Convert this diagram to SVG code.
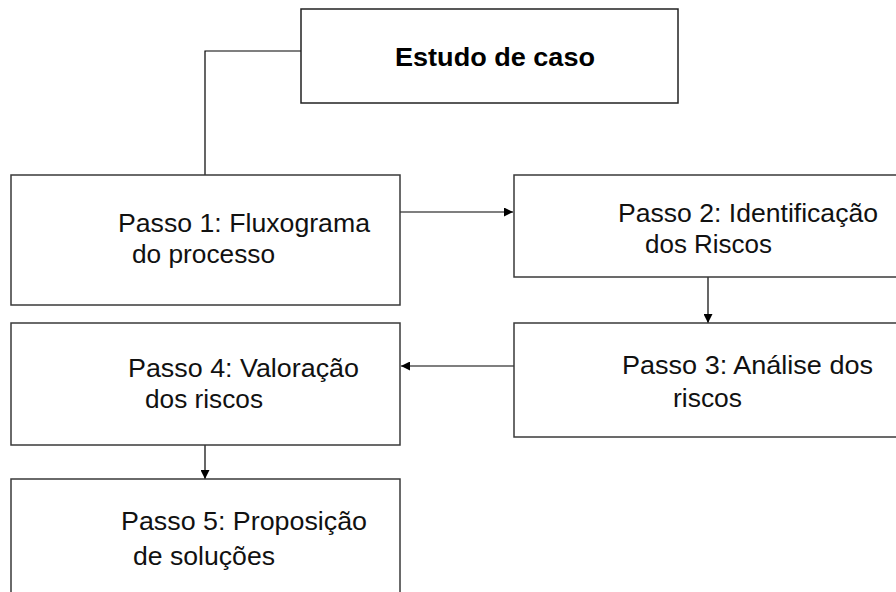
<svg xmlns="http://www.w3.org/2000/svg" width="896" height="592" viewBox="0 0 896 592">
<defs>
<style>
.box{fill:#fff;stroke:#3a3a3a;stroke-width:1.5}
.t{font-family:"Liberation Sans",Arial,sans-serif;font-size:26px;fill:#111}
.b{font-family:"Liberation Sans",Arial,sans-serif;font-size:26px;font-weight:bold;fill:#000}
.c{fill:none;stroke:#000;stroke-width:1.2}
</style>
<marker id="ah" viewBox="0 0 10 10" refX="10" refY="5" markerWidth="9" markerHeight="9" markerUnits="userSpaceOnUse" orient="auto"><path d="M0,0 L10,5 L0,10 z" fill="#000"/></marker>
</defs>
<rect width="896" height="592" fill="#fff"/>
<g id="connectors">
<polyline class="c" points="301,51 205,51 205,175"/>
<line class="c" x1="400" y1="212" x2="513" y2="212" marker-end="url(#ah)"/>
<line class="c" x1="708" y1="277" x2="708" y2="323" marker-end="url(#ah)"/>
<line class="c" x1="514" y1="366" x2="401" y2="366" marker-end="url(#ah)"/>
<line class="c" x1="205" y1="445" x2="205" y2="479" marker-end="url(#ah)"/>
</g>
<g id="estudo">
<rect class="box" x="301" y="9" width="377" height="94" style="stroke:#222"/>
<text class="b" x="395" y="66" textLength="200" lengthAdjust="spacingAndGlyphs">Estudo de  caso</text>
</g>
<g id="passo1">
<rect class="box" x="11" y="175" width="389" height="130"/>
<text class="t" x="118" y="232" textLength="252" lengthAdjust="spacingAndGlyphs">Passo 1: Fluxograma</text>
<text class="t" x="132" y="263" textLength="143" lengthAdjust="spacingAndGlyphs">do processo</text>
</g>
<g id="passo2">
<rect class="box" x="514" y="175" width="390" height="102"/>
<text class="t" x="618" y="222" textLength="260" lengthAdjust="spacingAndGlyphs">Passo 2: Identificação</text>
<text class="t" x="645" y="253" textLength="127" lengthAdjust="spacingAndGlyphs">dos Riscos</text>
</g>
<g id="passo3">
<rect class="box" x="514" y="323" width="390" height="114"/>
<text class="t" x="622" y="374" textLength="251" lengthAdjust="spacingAndGlyphs">Passo 3: Análise dos</text>
<text class="t" x="673" y="407" textLength="69" lengthAdjust="spacingAndGlyphs">riscos</text>
</g>
<g id="passo4">
<rect class="box" x="11" y="323" width="389" height="122"/>
<text class="t" x="128" y="377" textLength="231" lengthAdjust="spacingAndGlyphs">Passo 4: Valoração</text>
<text class="t" x="145" y="408" textLength="118" lengthAdjust="spacingAndGlyphs">dos riscos</text>
</g>
<g id="passo5">
<rect class="box" x="11" y="479" width="389" height="130"/>
<text class="t" x="121" y="530" textLength="246" lengthAdjust="spacingAndGlyphs">Passo 5: Proposição</text>
<text class="t" x="133" y="565" textLength="142" lengthAdjust="spacingAndGlyphs">de soluções</text>
</g>
</svg>
